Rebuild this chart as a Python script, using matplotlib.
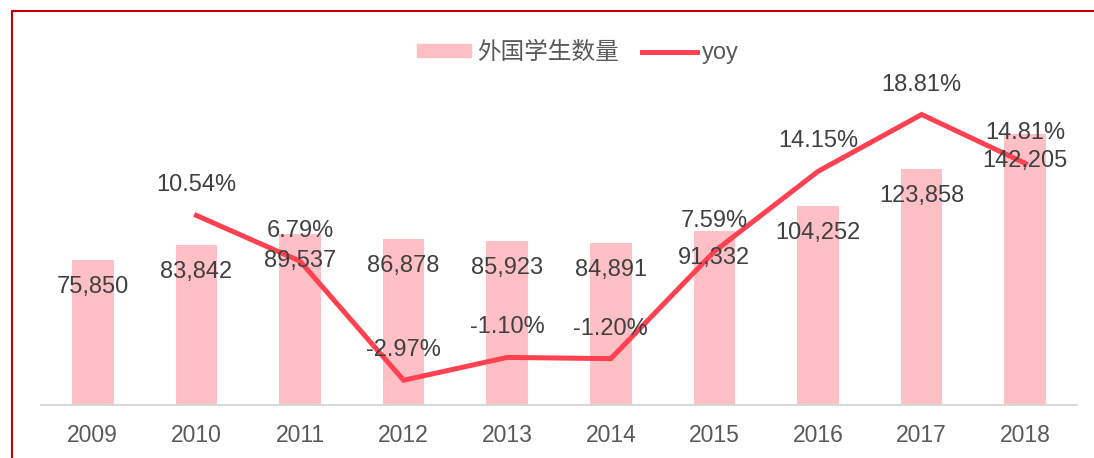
import matplotlib
matplotlib.use("Agg")
import matplotlib.pyplot as plt
from matplotlib.lines import Line2D

plt.rcParams['font.family'] = ['Liberation Sans', 'Noto Sans CJK SC', 'DejaVu Sans']

years = ["2009", "2010", "2011", "2012", "2013", "2014", "2015", "2016", "2017", "2018"]
students = [75850, 83842, 89537, 86878, 85923, 84891, 91332, 104252, 123858, 142205]
yoy_years = ["2010", "2011", "2012", "2013", "2014", "2015", "2016", "2017", "2018"]
yoy = [10.54, 6.79, -2.97, -1.10, -1.20, 7.59, 14.15, 18.81, 14.81]

bar_color = "#FFC0C5"
line_color = "#FF4151"
text_color = "#404040"
tick_color = "#595959"

fig = plt.figure(figsize=(10.94, 4.58), dpi=100)
ax = fig.add_axes([41/1094, 1-405/458, (1077-41)/1094, 305/458])
ax2 = ax.twinx()

x = list(range(len(years)))
ax.bar(x, students, width=0.4, color=bar_color, zorder=2)
ax.set_xlim(-0.5, len(years)-0.5)
ax.set_ylim(0, 160000)

xl = [years.index(y) for y in yoy_years]
ax2.plot(xl, yoy, color=line_color, lw=3.6, solid_joinstyle='miter', zorder=3)
ax2.set_ylim(-5, 20)

for a in (ax, ax2):
    for s in a.spines.values():
        s.set_visible(False)
    a.set_yticks([])
ax.spines['bottom'].set_visible(True)
ax.spines['bottom'].set_color("#D9D9D9")
ax.spines['bottom'].set_linewidth(1.5)

ax.set_xticks(x)
ax.set_xticklabels(years, fontsize=16.5, color=tick_color)
ax.tick_params(axis='x', length=0, pad=14)

for i, v in enumerate(students):
    ax2.annotate(f"{v:,}", xy=(i, v), xycoords=ax.transData,
                 xytext=(0, -27), textcoords='offset pixels',
                 ha='center', va='center', fontsize=17, color=text_color, zorder=5)
for i, v in zip(xl, yoy):
    ax2.annotate(f"{v:.2f}%", xy=(i, v), xycoords=ax2.transData,
                 xytext=(0, 30), textcoords='offset pixels',
                 ha='center', va='center', fontsize=17, color=text_color, zorder=5)

handles = [plt.Rectangle((0, 0), 1, 1, color=bar_color),
           Line2D([0], [0], color=line_color, lw=3.6)]
fig.legend(handles, ["外国学生数量", "yoy"], loc='center',
           bbox_to_anchor=(578/1094, 1-53/458), ncol=2, frameon=False,
           fontsize=17, labelcolor=tick_color, handlelength=2.3,
           handleheight=0.5, handletextpad=0.25, columnspacing=1.0)

# red frame at top and left
fig.add_artist(Line2D([12/1094, 12/1094], [0, 1-11/458], transform=fig.transFigure,
                      color="#C00000", lw=1.5))
fig.add_artist(Line2D([12/1094, 1], [1-11/458, 1-11/458], transform=fig.transFigure,
                      color="#C00000", lw=1.5))

fig.savefig("out.png", dpi=100)
